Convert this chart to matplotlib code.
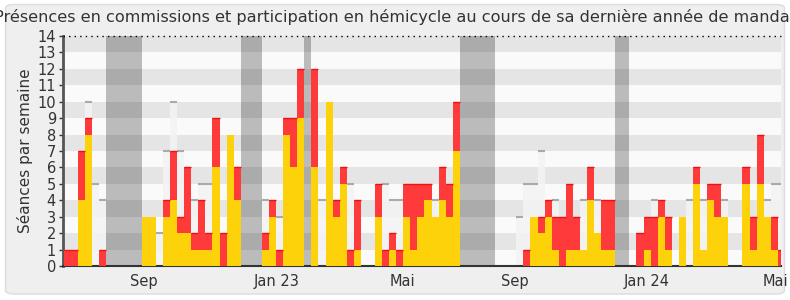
"""
Présences hebdomadaires d'un député sur sa dernière année de mandat
(commissions en rouge, hémicycle en jaune, vacances en gris).
"""

import matplotlib
matplotlib.use("Agg")
import matplotlib.pyplot as plt
from matplotlib.patches import FancyBboxPatch

# --- données (une valeur par semaine, 102 semaines) ---
hemicycle = [0, 0, 4, 8, 0, 0, 0, 0, 0, 0, 0, 3, 3, 0, 3, 4, 2, 2, 1, 1,
             1, 6, 0, 8, 4, 0, 0, 0, 1, 3, 0, 8, 6, 9, 0, 6, 0, 10, 3, 5,
             0, 1, 0, 0, 3, 0, 1, 0, 3, 1, 3, 4, 3, 4, 3, 7, 0, 0, 0, 0,
             0, 0, 0, 0, 0, 0, 3, 2, 3, 1, 0, 1, 1, 1, 4, 2, 1, 1, 0, 0,
             0, 0, 1, 0, 3, 1, 0, 3, 0, 5, 1, 4, 3, 3, 0, 0, 5, 1, 5, 3,
             1, 0]
commission = [1, 1, 3, 1, 0, 1, 0, 0, 0, 0, 0, 0, 0, 0, 1, 3, 1, 4, 1, 3,
              1, 3, 2, 0, 2, 0, 0, 0, 1, 1, 1, 1, 3, 3, 0, 6, 0, 0, 1, 1,
              1, 3, 0, 0, 2, 1, 1, 1, 2, 4, 2, 1, 0, 2, 2, 3, 0, 0, 0, 0,
              0, 0, 0, 0, 0, 1, 0, 1, 1, 2, 3, 4, 2, 0, 2, 0, 3, 3, 0, 0,
              0, 2, 2, 3, 1, 2, 0, 0, 0, 1, 0, 1, 2, 0, 0, 0, 1, 2, 3, 0,
              2, 1]
# médiane des députés (barres claires)
mediane = [0, 0, 0, 10, 5, 4, 0, 0, 0, 0, 0, 0, 0, 2, 7, 10, 7, 0, 4, 5,
           5, 0, 0, 0, 0, 0, 0, 0, 4, 0, 3, 0, 0, 0, 0, 0, 4, 0, 0, 0,
           5, 0, 0, 0, 0, 5, 4, 4, 0, 0, 0, 0, 4, 0, 0, 0, 0, 0, 0, 0,
           0, 0, 0, 0, 3, 5, 5, 7, 0, 4, 0, 0, 0, 4, 0, 4, 0, 0, 0, 0,
           0, 0, 0, 4, 0, 0, 0, 0, 4, 0, 4, 0, 0, 4, 0, 0, 0, 0, 0, 4,
           5, 5]
vacances = [6, 7, 8, 9, 10, 25, 26, 27, 34, 56, 57, 58, 59, 60, 78, 79]

mois_pos = [11.25, 30.05, 47.95, 63.8, 82.5, 100.7]
mois_labels = ["Sep", "Jan 23", "Mai", "Sep", "Jan 24", "Mai"]

titre = ("Présences en commissions et participation en hémicycle "
         "au cours de sa dernière année de mandat")

ROUGE = "#ff3a3a"
JAUNE = "#fdd20b"
TEXTE = "#333333"

fig = plt.figure(figsize=(7.9, 3.0), dpi=100, facecolor="white")
fig.patches.append(FancyBboxPatch((0.007, 0.02), 0.986, 0.965,
                                  boxstyle="round,pad=0,rounding_size=0.012",
                                  transform=fig.transFigure,
                                  facecolor="#efefef", edgecolor="#dcdcdc",
                                  linewidth=1, zorder=-10))

ax = fig.add_axes([0.0797, 0.1133, 0.9089, 0.7667])
ax.set_facecolor("#fafafa")

n = len(hemicycle)
semaines = list(range(n))

# bandes horizontales
for k in range(14):
    if k % 2 == 1:
        ax.axhspan(k, k + 1, color="#e5e5e5", lw=0, zorder=0)

# barres claires (médiane)
ax.bar(semaines, mediane, width=1, align="edge", color="#f4f4f4",
       alpha=0.85, lw=0, zorder=1)
ax.hlines([m for m in mediane if m > 0],
          [s for s, m in zip(semaines, mediane) if m > 0],
          [s + 1 for s, m in zip(semaines, mediane) if m > 0],
          color="#aaaaaa", lw=1.5, zorder=1.5)

# vacances parlementaires
ax.bar(vacances, [14] * len(vacances), width=1, align="edge",
       color="black", alpha=0.25, lw=0, zorder=2)

# hémicycle + commissions
ax.bar(semaines, hemicycle, width=1, align="edge", color=JAUNE, lw=0, zorder=3)
ax.bar(semaines, commission, bottom=hemicycle, width=1, align="edge",
       color=ROUGE, lw=0, zorder=3)
tops = [h + c for h, c in zip(hemicycle, commission)]
ax.hlines([t for t, c in zip(tops, commission) if c > 0],
          [s for s, c in zip(semaines, commission) if c > 0],
          [s + 1 for s, c in zip(semaines, commission) if c > 0],
          color="#ee1111", lw=1, zorder=3.5)

ax.axhline(14, color="black", lw=1, ls=(0, (1, 3)), zorder=4, clip_on=False)

ax.set_xlim(-0.15, 101.45)
ax.set_ylim(0, 14)
ax.set_yticks(range(15))
ax.set_xticks(mois_pos)
ax.set_xticklabels(mois_labels)
ax.tick_params(axis="y", length=3, width=1, color=TEXTE, labelsize=10.5,
               labelcolor=TEXTE, pad=2)
ax.tick_params(axis="x", length=0, labelsize=10.5, labelcolor=TEXTE, pad=6)
ax.set_ylabel("Séances par semaine", fontsize=11, color=TEXTE, labelpad=3)

for side in ["top", "right"]:
    ax.spines[side].set_visible(False)
ax.spines["left"].set_color("#555555")
ax.spines["left"].set_linewidth(2)
ax.spines["bottom"].set_color("#333333")
ax.spines["bottom"].set_linewidth(1.5)

fig.text(0.5, 0.942, titre, ha="center", va="center", fontsize=11.6,
         color=TEXTE)

fig.savefig("out.png", dpi=100, facecolor=fig.get_facecolor())
